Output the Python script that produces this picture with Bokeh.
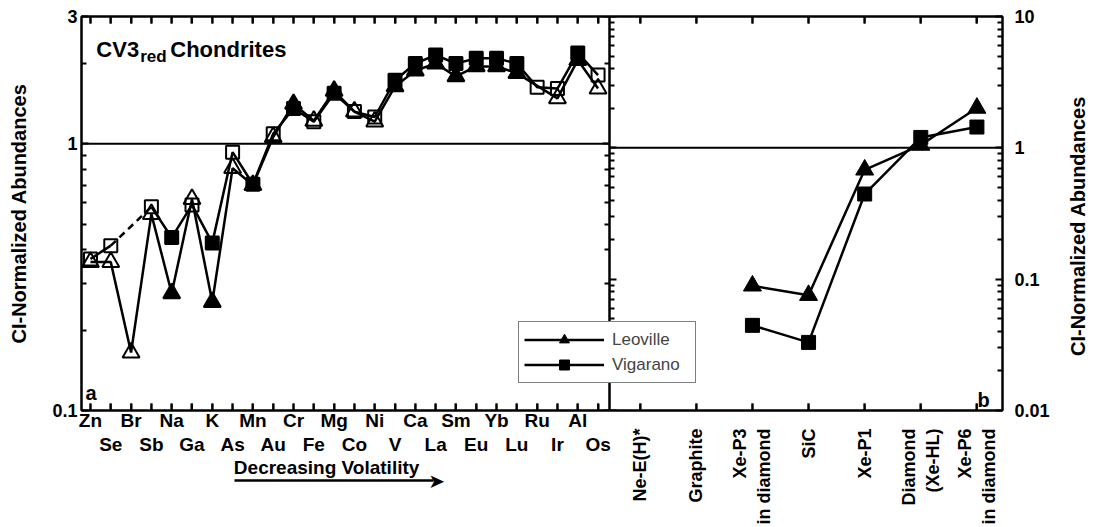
import math
from bokeh.plotting import figure
from bokeh.models import (Range1d, LogScale, LinearAxis, LogAxis, FixedTicker, Legend,
                          LegendItem, Label, ColumnDataSource, Grid)
from bokeh.embed import file_html
from bokeh.resources import INLINE

nan = float("nan")

# ---------------- data: panel a (elements in order of decreasing volatility)
elements = ["Zn", "Se", "Br", "Sb", "Na", "Ga", "K", "As", "Mn", "Au", "Cr", "Fe", "Mg",
            "Co", "Ni", "V", "Ca", "La", "Sm", "Eu", "Yb", "Lu", "Ru", "Ir", "Al", "Os"]
filled_a = [0, 0, 0, 0, 1, 0, 1, 0, 1, 0, 1, 0, 1, 0, 0, 1, 1, 1, 1, 1, 1, 1, 0, 0, 1, 0]
leoville_a = [0.36, 0.36, 0.165, 0.545, 0.275, 0.62, 0.255, 0.81, 0.70, 1.06, 1.41, 1.22, 1.58,
              1.32, 1.21, 1.64, 1.88, 2.00, 1.79, 1.95, 1.95, 1.84, nan, 1.48, 2.06, 1.61]
vigarano_a = [0.37, 0.415, nan, 0.58, 0.445, 0.59, 0.425, 0.93, 0.705, 1.09, 1.355, 1.21, 1.545,
              1.32, 1.26, 1.73, 2.00, 2.15, 2.00, 2.09, 2.09, 2.00, 1.63, 1.61, 2.19, 1.81]

# ---------------- data: panel b (presolar components)
components = ["Ne-E(H)*", "Graphite", "Xe-P3\nin diamond", "SiC", "Xe-P1",
              "Diamond\n(Xe-HL)", "Xe-P6\nin diamond"]
leoville_b = [nan, nan, 0.089, 0.0755, 0.68, 1.05, 2.01]
vigarano_b = [nan, nan, 0.0445, 0.033, 0.445, 1.20, 1.44]

y_title = "CI-Normalized Abundances"
x_caption = "Decreasing Volatility"

FONT = "Liberation Sans"

# frame geometry expressed in each panel's own units
XA = (-0.442, 44.92)     # panel a x units across the full frame
XA_END = 25.58           # panel boundary in panel a units
XB = (-9.956, 6.456)     # panel b x units across the full frame
XB_START = -0.542        # panel boundary in panel b units
YA = (0.1, 3)
YB = (0.01, 10)

p = figure(width=1103, height=527, output_backend="svg", toolbar_location=None,
           x_range=Range1d(*XA), y_range=Range1d(*YA), y_axis_type="log",
           x_axis_location=None, y_axis_location=None,
           min_border_left=81, min_border_right=98, min_border_top=16, min_border_bottom=116)
p.extra_x_ranges = {"b": Range1d(*XB)}
p.extra_y_ranges = {"b": Range1d(*YB)}
p.extra_y_scales = {"b": LogScale()}
p.center = [r for r in p.center if not isinstance(r, Grid)]
p.outline_line_color = "black"
p.outline_line_width = 2
p.background_fill_color = "white"
p.border_fill_color = "white"


def style_axis(ax, tick_in=7, minor_in=5, labels=True, size="18px", rule=True):
    ax.axis_line_color = "black" if rule else None
    ax.axis_line_width = 2
    ax.major_tick_in = tick_in
    ax.major_tick_out = 0
    ax.minor_tick_in = minor_in
    ax.minor_tick_out = 0
    ax.major_tick_line_width = 2
    ax.minor_tick_line_width = 2
    ax.major_tick_line_color = "black" if tick_in else None
    ax.minor_tick_line_color = "black" if minor_in else None
    ax.major_label_text_font = FONT
    ax.major_label_text_font_style = "bold"
    ax.major_label_text_font_size = size if labels else "0px"
    ax.major_label_text_color = "black" if labels else None
    if not labels:
        ax.major_label_standoff = 0
    ax.axis_label_text_font = FONT
    ax.axis_label_text_font_style = "bold"
    ax.axis_label_text_font_size = "20px"
    ax.axis_label_text_color = "black"


# ---------------- y axes
minor_a = [0.2, 0.3, 0.4, 0.5, 0.6, 0.7, 0.8, 0.9, 2]
ticks_a = [0.1, 1, 3]
minor_b = [k * 10.0 ** e for e in (-2, -1, 0) for k in range(2, 10)]
ticks_b = [0.01, 0.1, 1, 10]

ax = LogAxis(ticker=FixedTicker(ticks=ticks_a, minor_ticks=minor_a),
             major_label_overrides={0.1: "0.1", 1: "1", 3: "3"}, axis_label=y_title)
style_axis(ax)
ax.major_label_standoff = 4
ax.axis_label_standoff = 19
p.add_layout(ax, "left")

ax = LogAxis(ticker=FixedTicker(ticks=ticks_a, minor_ticks=minor_a), fixed_location=XA_END)
style_axis(ax, labels=False)
p.add_layout(ax, "right")

ax = LogAxis(y_range_name="b", ticker=FixedTicker(ticks=ticks_b, minor_ticks=minor_b),
             fixed_location=XA_END)
style_axis(ax, labels=False)
p.add_layout(ax, "left")

ax = LogAxis(y_range_name="b", ticker=FixedTicker(ticks=ticks_b, minor_ticks=minor_b),
             major_label_overrides={0.01: "0.01", 0.1: "0.1", 1: "1", 10: "10"})
style_axis(ax)
ax.major_label_standoff = 12
p.add_layout(ax, "right")

# right-hand title, written upward like the left one (placed as a rotated tick label)
ax = LogAxis(y_range_name="b", ticker=FixedTicker(ticks=[0.026]),
             major_label_overrides={0.026: y_title}, major_label_orientation=math.pi / 2)
style_axis(ax, tick_in=0, minor_in=0, size="20px", rule=False)
ax.major_label_standoff = 26
p.add_layout(ax, "right")

# ---------------- top axes (tick marks only)
ia = list(range(len(elements)))
ib = list(range(len(components)))
even = ia[0::2]
odd = ia[1::2]

ax = LinearAxis(ticker=FixedTicker(ticks=ia), bounds=(XA[0], XA_END))
style_axis(ax, labels=False)
p.add_layout(ax, "above")
ax = LinearAxis(x_range_name="b", ticker=FixedTicker(ticks=ib), bounds=(XB_START, XB[1]))
style_axis(ax, labels=False)
p.add_layout(ax, "above")

# ---------------- bottom axes
# panel b tick marks (zero height, sits on the frame)
ax = LinearAxis(x_range_name="b", ticker=FixedTicker(ticks=ib), bounds=(XB_START, XB[1]))
style_axis(ax, labels=False)
p.add_layout(ax, "below")

# panel a, two staggered label rows
ax = LinearAxis(ticker=FixedTicker(ticks=even, minor_ticks=odd), bounds=(XA[0], XA_END),
                major_label_overrides={i: elements[i] for i in even})
style_axis(ax, tick_in=7, minor_in=7, size="19px")
ax.major_label_standoff = -1
p.add_layout(ax, "below")

ax = LinearAxis(ticker=FixedTicker(ticks=odd), bounds=(XA[0], XA_END),
                major_label_overrides={i: elements[i] for i in odd})
style_axis(ax, tick_in=0, minor_in=0, size="19px", rule=False)
ax.major_label_standoff = 0
p.add_layout(ax, "below")

# caption "Decreasing Volatility" centred under Mn..Ca
ax = LinearAxis(ticker=FixedTicker(ticks=[11.63]), major_label_overrides={11.63: x_caption})
style_axis(ax, tick_in=0, minor_in=0, size="19px", rule=False)
ax.major_label_standoff = -1
p.add_layout(ax, "below")

# the arrow: shaft = axis rule, head = glyph at its end
ax = LinearAxis(ticker=FixedTicker(ticks=[17.05]), bounds=(7.1, 16.9),
                major_label_overrides={17.05: "\u27a4"})
style_axis(ax, tick_in=0, minor_in=0, size="20px")
ax.axis_line_width = 2.5
ax.major_label_text_font = "DejaVu Sans"
ax.major_label_text_font_style = "normal"
ax.major_label_standoff = -12
p.add_layout(ax, "below")

# panel b labels, written upward, lifted back up to just under the frame
ax = LinearAxis(x_range_name="b", ticker=FixedTicker(ticks=ib), bounds=(XB_START, XB[1]),
                major_label_overrides={i: components[i] for i in ib},
                major_label_orientation=math.pi / 2)
style_axis(ax, tick_in=0, minor_in=0, size="18px", rule=False)
ax.major_label_standoff = -67
p.add_layout(ax, "below")

# inward tick marks on the top and bottom edges (half of each dash is clipped by the frame)
for yv in YA:
    p.scatter(ia, [yv] * len(ia), marker="dash", angle=math.pi / 2, size=14,
              line_color="black", line_width=2)
for yv in YB:
    p.scatter(ib, [yv] * len(ib), marker="dash", angle=math.pi / 2, size=14,
              line_color="black", line_width=2, x_range_name="b", y_range_name="b")

# ---------------- reference lines at 1
p.line([XA[0], XA_END], [1, 1], line_color="black", line_width=2)
p.line([XB_START, XB[1]], [1, 1], line_color="black", line_width=2,
       x_range_name="b", y_range_name="b")

# ---------------- panel a series
lx = [i for i in ia if not math.isnan(leoville_a[i])]
p.line(lx, [leoville_a[i] for i in lx], line_color="black", line_width=2.5)

runs, cur = [], []
for i in ia:
    if math.isnan(vigarano_a[i]):
        if cur:
            runs.append(cur)
            cur = []
    else:
        cur.append(i)
if cur:
    runs.append(cur)
for r in runs:
    p.line(r, [vigarano_a[i] for i in r], line_color="black", line_width=2.5)
for r0, r1 in zip(runs[:-1], runs[1:]):
    p.line([r0[-1], r1[0]], [vigarano_a[r0[-1]], vigarano_a[r1[0]]],
           line_color="black", line_width=2.5, line_dash="7 5")

src_a = ColumnDataSource(dict(x=ia, leo=leoville_a, vig=vigarano_a,
                              alpha=[1.0 if f else 0.0 for f in filled_a]))
p.scatter("x", "leo", source=src_a, marker="triangle", size=17, fill_color="black",
          fill_alpha="alpha", line_color="black", line_width=2)
p.scatter("x", "vig", source=src_a, marker="square", size=13, fill_color="black",
          fill_alpha="alpha", line_color="black", line_width=2)

# ---------------- panel b series
src_b = ColumnDataSource(dict(x=ib, leo=leoville_b, vig=vigarano_b))
lb_line = p.line("x", "leo", source=src_b, x_range_name="b", y_range_name="b",
                 line_color="black", line_width=2.5)
vb_line = p.line("x", "vig", source=src_b, x_range_name="b", y_range_name="b",
                 line_color="black", line_width=2.5)
lb_pts = p.scatter("x", "leo", source=src_b, x_range_name="b", y_range_name="b",
                   marker="triangle", size=18, fill_color="black", line_color="black")
vb_pts = p.scatter("x", "vig", source=src_b, x_range_name="b", y_range_name="b",
                   marker="square", size=14, fill_color="black", line_color="black")

# ---------------- legend
leg = Legend(items=[LegendItem(label="Leoville", renderers=[lb_line, lb_pts]),
                    LegendItem(label="Vigarano", renderers=[vb_line, vb_pts])],
             location=(437, 27), margin=0, padding=5, spacing=0, glyph_height=25,
             glyph_width=80, label_standoff=8, label_width=78, label_text_font=FONT,
             label_text_font_size="17px",
             border_line_color="black", border_line_width=1.5,
             background_fill_color="white", background_fill_alpha=1.0)
p.add_layout(leg, "center")

# ---------------- texts inside the frames
def txt(x, y, s, size="22px", **kw):
    p.add_layout(Label(x=x, y=y, text=s, text_font=FONT, text_font_style="bold",
                       text_font_size=size, text_color="black",
                       text_baseline="alphabetic", **kw))

txt(0.29, 2.26, "CV3")
txt(2.45, 2.127, "red", size="17px")
txt(3.93, 2.26, "Chondrites")
txt(-0.245, 0.1168, "a", size="20px")
txt(6.01, 0.0121, "b", size="20px", x_range_name="b", y_range_name="b")

open("out.html", "w").write(file_html(p, INLINE))
